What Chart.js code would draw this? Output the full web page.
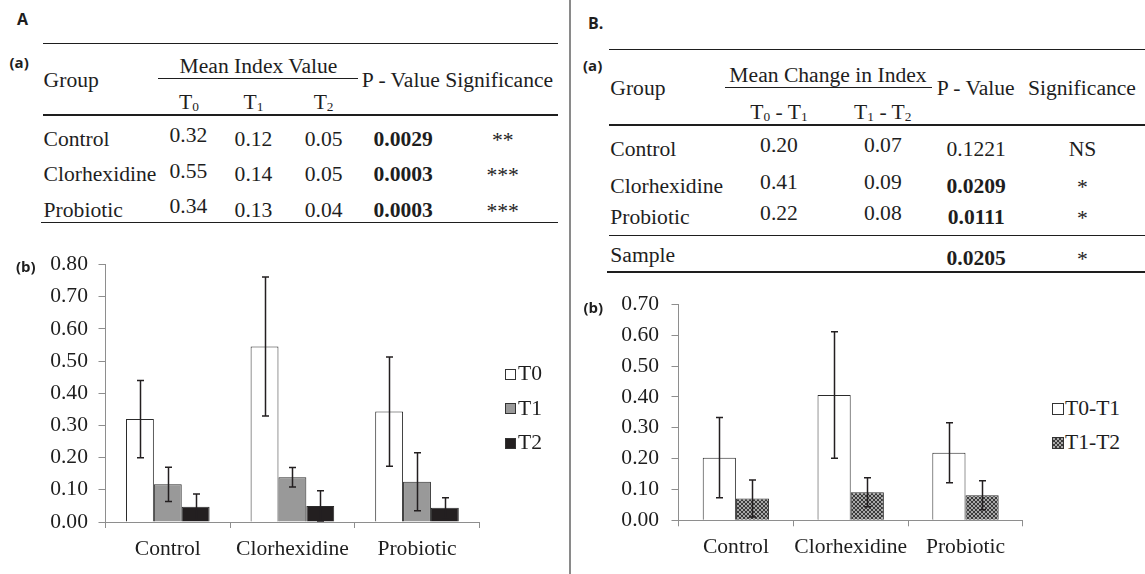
<!DOCTYPE html>
<html>
<head>
<meta charset="utf-8">
<script src="https://cdn.jsdelivr.net/npm/chart.js@4.4.1/dist/chart.umd.min.js"></script>
<style>
html, body { margin: 0; padding: 0; background: #fff; }
#page { position: relative; width: 1145px; height: 574px; overflow: hidden;
  font-family: "Liberation Serif", "Times New Roman", serif; color: #1e1e1e; }
.t { position: absolute; white-space: nowrap; line-height: 1; font-size: 21.6px; }
.lab { font-family: "Open Sans", "Liberation Sans", sans-serif; font-weight: bold; font-size: 15px; }
.lab2 { font-family: "Open Sans", "Liberation Sans", sans-serif; font-weight: bold; font-size: 16px; }
.b { font-weight: bold; }
.s { font-size: 0.62em; position: relative; top: 0.14em; }
.rule { position: absolute; background: #1e1e1e; }
.sw { position: absolute; box-sizing: border-box; border: 1px solid #333; }
canvas { position: absolute; }
</style>
</head>
<body>
<div id="page">
  <canvas id="chartA" width="490" height="333" style="left:0;top:241px;width:490px;height:333px"></canvas>
  <canvas id="chartB" width="460" height="295" style="left:575px;top:279px;width:460px;height:295px"></canvas>
</div>
<script>
// ---- data ----
const groups = ["Control", "Clorhexidine", "Probiotic"];

// panel A, mean index value (bars) and error
const t0 = [0.32, 0.545, 0.343];
const t1 = [0.117, 0.139, 0.125];
const t2 = [0.047, 0.05, 0.044];
const t0Err = [0.12, 0.216, 0.17];
const t1Err = [0.053, 0.03, 0.09];
const t2Err = [0.04, 0.047, 0.031];
const maxA = 0.8;

// panel B, mean change in index (bars) and error
const d01 = [0.203, 0.406, 0.219];
const d12 = [0.071, 0.091, 0.081];
const d01Err = [0.13, 0.205, 0.097];
const d12Err = [0.06, 0.047, 0.047];
const maxB = 0.7;

// table A
const tabT0 = ["0.32", "0.55", "0.34"];
const tabT1 = ["0.12", "0.14", "0.13"];
const tabT2 = ["0.05", "0.05", "0.04"];
const tabPA = ["0.0029", "0.0003", "0.0003"];
const tabSigA = ["**", "***", "***"];

// table B
const tabD01 = ["0.20", "0.41", "0.22"];
const tabD12 = ["0.07", "0.09", "0.08"];
const tabPB = ["0.1221", "0.0209", "0.0111"];
const boldPB = [false, true, true];
const tabSigB = ["NS", "*", "*"];
const samplePB = "0.0205";
const sampleSigB = "*";

// ---- html text and rules ----
const page = document.getElementById("page");

function text(html, x, y, align, cls) {
  const d = document.createElement("div");
  d.className = "t " + (cls || "");
  d.innerHTML = html;
  d.style.left = x + "px";
  d.style.top = y + "px";
  d.style.transform = align === "left" ? "translate(0,-50%)" : "translate(-50%,-50%)";
  page.appendChild(d);
}

function rule(x1, x2, y, h) {
  const d = document.createElement("div");
  d.className = "rule";
  d.style.left = x1 + "px";
  d.style.width = (x2 - x1) + "px";
  d.style.top = (y - h / 2) + "px";
  d.style.height = h + "px";
  page.appendChild(d);
}

// divider
const div = document.createElement("div");
div.style.cssText = "position:absolute;left:569px;top:0;width:2px;height:574px;background:#8a8a8a";
page.appendChild(div);

// panel A table
text("A", 22.5, 18.5, "center", "lab2");
text("(a)", 9.5, 62, "left", "lab");
rule(42.5, 558, 43.3, 1.5);
text("Group", 43.6, 81, "left");
text("Mean Index Value", 258.5, 66.7);
rule(158, 358, 78.7, 1);
text("P - Value Significance", 361.8, 81, "left");
text('T<span class="s">0</span>', 189, 103);
text('T<span class="s">1</span>', 253.5, 103);
text('T<span class="s">2</span>', 323.6, 103);
rule(42.5, 558, 115, 2.5);
const rowA = [139.5, 175, 210.5];
groups.forEach((g, i) => {
  text(g, 43.6, rowA[i], "left");
  text(tabT0[i], 188.4, rowA[i] - 3.5);
  text(tabT1[i], 253.5, rowA[i]);
  text(tabT2[i], 323.6, rowA[i]);
  text(tabPA[i], 403.2, rowA[i], "center", "b");
  text(tabSigA[i], 502.7, rowA[i] + 1);
});
rule(41, 558, 222.7, 1.5);
text("(b)", 16, 265.7, "left", "lab");

// panel B table
text("B.", 588, 23, "left", "lab2");
text("(a)", 583, 65, "left", "lab");
rule(609, 1145, 49.3, 1.5);
text("Group", 610.3, 89, "left");
text("Mean Change in Index", 828, 76);
rule(725, 932, 87.3, 1);
text("P - Value", 936.7, 89, "left");
text("Significance", 1028, 89, "left");
text('T<span class="s">0</span> - T<span class="s">1</span>', 779, 113.3);
text('T<span class="s">1</span> - T<span class="s">2</span>', 882.8, 113.3);
rule(609, 1145, 125, 2.5);
const rowB = [150, 186.7, 218.3];
groups.forEach((g, i) => {
  text(g, 610.3, rowB[i], "left");
  text(tabD01[i], 779, rowB[i] - 4);
  text(tabD12[i], 882.8, rowB[i] - 4);
  text(tabPB[i], 976.2, rowB[i], "center", boldPB[i] ? "b" : "");
  text(tabSigB[i], 1082.5, rowB[i] + (tabSigB[i] === "*" ? 1 : 0));
});
rule(609, 1145, 235.3, 1.5);
text("Sample", 610.3, 256, "left");
text(samplePB, 976.2, 259.3, "center", "b");
text(sampleSigB, 1082.5, 260);
rule(607.4, 1145, 272, 1.5);
text("(b)", 583.5, 306.7, "left", "lab");

// legends
function legendItem(x, y, size, bg, label, tx) {
  const sw = document.createElement("div");
  sw.className = "sw";
  sw.style.cssText += `left:${x}px;top:${y - size / 2}px;width:${size}px;height:${size}px;background:${bg}`;
  page.appendChild(sw);
  text(label, tx, y, "left");
}
const checker = "repeating-conic-gradient(#3a3a3a 0 25%, #a8a8a8 0 50%) 0 0/4px 4px";
legendItem(504.7, 374, 11, "#fff", "T0", 518);
legendItem(504.7, 408.7, 11, "#999", "T1", 518);
legendItem(504.7, 443.3, 11, "#231f20", "T2", 518);
legendItem(1051.5, 409, 12, "#fff", "T0-T1", 1065);
legendItem(1051.5, 443.3, 12, checker, "T1-T2", 1065);

// ---- charts ----
function dotPattern() {
  const c = document.createElement("canvas");
  c.width = 4; c.height = 4;
  const g = c.getContext("2d");
  g.fillStyle = "#3a3a3a"; g.fillRect(0, 0, 4, 4);
  g.fillStyle = "#a8a8a8"; g.fillRect(0, 0, 2, 2); g.fillRect(2, 2, 2, 2);
  return g.createPattern(c, "repeat");
}

const errorBars = {
  id: "errorBars",
  afterDatasetsDraw(chart) {
    const ctx = chart.ctx, y = chart.scales.y;
    ctx.save();
    ctx.strokeStyle = "#231f20";
    ctx.lineWidth = 1.5;
    chart.data.datasets.forEach((ds, i) => {
      chart.getDatasetMeta(i).data.forEach((bar, j) => {
        const v = ds.data[j], e = ds.errors[j];
        const top = y.getPixelForValue(v + e);
        const bot = y.getPixelForValue(Math.max(0, v - e));
        const x = Math.round(bar.x) + 0.5;
        ctx.beginPath();
        ctx.moveTo(x, top); ctx.lineTo(x, bot);
        ctx.moveTo(x - 3.5, top); ctx.lineTo(x + 3.5, top);
        ctx.moveTo(x - 3.5, bot); ctx.lineTo(x + 3.5, bot);
        ctx.stroke();
      });
    });
    ctx.restore();
  }
};

const serif = { family: "'Liberation Serif', 'Times New Roman', serif", size: 21.6 };

// chart area top = canvas top + (label line height / 2 + y tick padding)
function makeChart(id, datasets, yMax, layout) {
  return new Chart(document.getElementById(id), {
    type: "bar",
    data: { labels: groups, datasets: datasets },
    options: {
      responsive: false,
      animation: false,
      devicePixelRatio: 1,
      layout: { padding: { left: 0, top: 0, right: layout.padRight, bottom: 0 } },
      plugins: { legend: { display: false }, tooltip: { enabled: false } },
      datasets: { bar: { categoryPercentage: layout.catPct, barPercentage: 1 } },
      scales: {
        x: {
          grid: { offset: true, drawOnChartArea: false, drawTicks: true, tickLength: 6, color: "#8e8e8e" },
          border: { display: true, color: "#8e8e8e", width: 1 },
          ticks: { font: serif, color: "#1e1e1e", padding: layout.xPad, maxRotation: 0, autoSkip: false },
          afterFit: s => { s.height = layout.xH; }
        },
        y: {
          min: 0,
          max: yMax,
          grid: { drawOnChartArea: false, drawTicks: true, tickLength: 7, color: "#8e8e8e" },
          border: { display: true, color: "#8e8e8e", width: 1 },
          ticks: { stepSize: 0.1, font: serif, color: "#1e1e1e", padding: layout.yPad,
                   callback: v => v.toFixed(2) },
          afterFit: s => { s.width = layout.yW; }
        }
      }
    },
    plugins: [errorBars]
  });
}

const edge = { borderColor: "#2b2b2b", borderWidth: 1 };

makeChart("chartA", [
  { label: "T0", data: t0, errors: t0Err, backgroundColor: "#ffffff", ...edge },
  { label: "T1", data: t1, errors: t1Err, backgroundColor: "#999999", ...edge },
  { label: "T2", data: t2, errors: t2Err, backgroundColor: "#231f20", ...edge }
], maxA, { padRight: 10.7, xH: 52, yW: 105.5, catPct: 0.671, xPad: 8, yPad: 10.54 });

makeChart("chartB", [
  { label: "T0-T1", data: d01, errors: d01Err, backgroundColor: "#ffffff", ...edge },
  { label: "T1-T2", data: d12, errors: d12Err, backgroundColor: dotPattern(), ...edge }
], maxB, { padRight: 12.1, xH: 53.7, yW: 103.5, catPct: 0.578, xPad: 8.5, yPad: 12.34 });
</script>
</body>
</html>
